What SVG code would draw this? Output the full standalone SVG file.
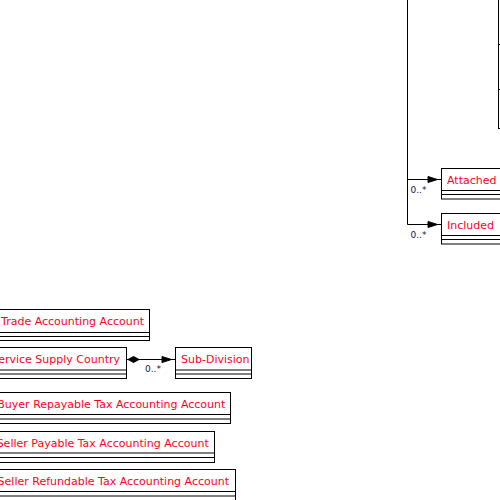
<svg xmlns="http://www.w3.org/2000/svg" width="500" height="500" viewBox="0 0 500 500">
<style>
.box{fill:#fff;stroke:#000;stroke-width:1}
.div{stroke:#000;stroke-width:1}
.lbl{font-family:"DejaVu Sans",Verdana,sans-serif;font-size:11px;fill:#ff0022}
.end{text-anchor:end}
.mult{font-family:"DejaVu Sans",Verdana,sans-serif;font-size:9px;fill:#14144a}
.conn{fill:none;stroke:#000;stroke-width:1}
.head{fill:#000;stroke:#000;stroke-width:1}
</style>
<rect width="500" height="500" fill="#fff"/>
<g id="connectors">
  <path class="conn" d="M407.5,-5 V224.5 M407.5,179.5 H441 M407.5,224.5 H441"/>
  <polygon class="head" points="428,176.5 437.5,179.5 428,182.5"/>
  <polygon class="head" points="428,221.5 437.5,224.5 428,227.5"/>
  <text class="mult" x="410.5" y="192.5">0..*</text>
  <text class="mult" x="410.5" y="237.5">0..*</text>
  <path class="conn" d="M126.5,359.5 H175.5"/>
  <polygon class="head" points="128,359.5 133.5,356.5 139,359.5 133.5,362.5"/>
  <polygon class="head" points="162,356.5 171.5,359.5 162,362.5"/>
  <text class="mult" x="145" y="372">0..*</text>
</g>
<g id="node-right">
  <rect class="box" x="498.5" y="-10" width="20" height="138.5"/>
  <path class="div" d="M498.5,44.5 H500 M498.5,89.5 H500"/>
</g>
<g id="node-attached">
  <rect class="box" x="441.5" y="168.5" width="80" height="30.5"/>
  <path class="div" d="M441.5,190.5 H521 M441.5,194.5 H521"/>
  <text class="lbl" x="447" y="184">Attached</text>
</g>
<g id="node-included">
  <rect class="box" x="441.5" y="213.5" width="80" height="30.5"/>
  <path class="div" d="M441.5,235.5 H521 M441.5,239.5 H521"/>
  <text class="lbl" x="447" y="229">Included</text>
</g>
<g id="node-trade">
  <rect class="box" x="-20" y="309.5" width="169.5" height="31"/>
  <path class="div" d="M-20,332.5 H149.5 M-20,336.5 H149.5"/>
  <text class="lbl end" x="144" y="325">Trade Accounting Account</text>
</g>
<g id="node-service">
  <rect class="box" x="-20" y="347.5" width="146.5" height="31"/>
  <path class="div" d="M-20,370 H126.5 M-20,374 H126.5"/>
  <text class="lbl end" x="120" y="363">Service Supply Country</text>
</g>
<g id="node-subdivision">
  <rect class="box" x="175.5" y="347.5" width="76" height="31"/>
  <path class="div" d="M175.5,370 H251.5 M175.5,374 H251.5"/>
  <text class="lbl" x="181" y="363">Sub-Division</text>
</g>
<g id="node-buyer">
  <rect class="box" x="-20" y="392.5" width="250.5" height="31"/>
  <path class="div" d="M-20,414.5 H230.5 M-20,419 H230.5"/>
  <text class="lbl end" x="225.3" y="408">Buyer Repayable Tax Accounting Account</text>
</g>
<g id="node-seller-payable">
  <rect class="box" x="-20" y="431.5" width="234.5" height="31"/>
  <path class="div" d="M-20,453 H214.5 M-20,457.5 H214.5"/>
  <text class="lbl end" x="208.7" y="447">Seller Payable Tax Accounting Account</text>
</g>
<g id="node-seller-refundable">
  <rect class="box" x="-20" y="469.5" width="255.5" height="40"/>
  <path class="div" d="M-20,491.5 H235.5 M-20,496 H235.5"/>
  <text class="lbl end" x="229" y="485">Seller Refundable Tax Accounting Account</text>
</g>
</svg>
